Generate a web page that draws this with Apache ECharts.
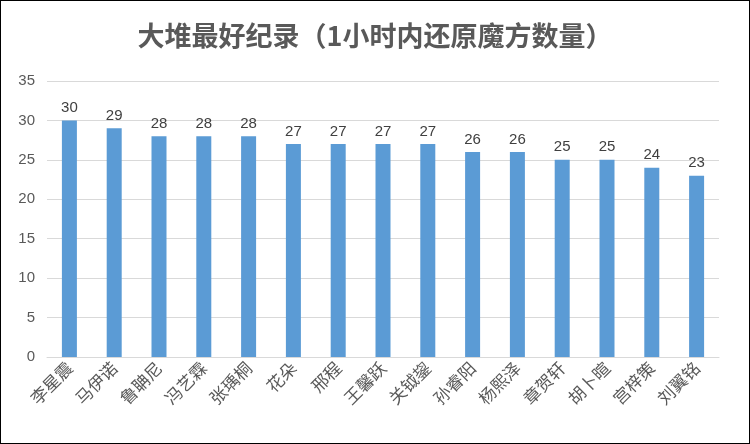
<!DOCTYPE html>
<html>
<head>
<meta charset="utf-8">
<script src="https://cdn.jsdelivr.net/npm/echarts@6/dist/echarts.min.js"></script>
<style>
  html, body { margin: 0; padding: 0; background: #fff; }
  #chart { width: 748px; height: 442px; border: 1px solid #000; }
</style>
</head>
<body>
<div id="chart"></div>
<script>
// 数据
const names = ["李星震", "马伊诺", "鲁聃尼", "冯艺霖", "张瑀桐", "花朵", "邢程", "王馨跃", "关钺鋆", "孙睿阳", "杨熙泽", "章贺轩", "胡卜暄", "宫梓策", "刘翼铭"];
const counts = [30, 29, 28, 28, 28, 27, 27, 27, 27, 26, 26, 25, 25, 24, 23];

let myChart = echarts.init(document.getElementById("chart"));
myChart.setOption({
  title: {
    text: "大堆最好纪录（1小时内还原魔方数量）",
    left: "center",
    top: 16,
    textStyle: { fontSize: 27, fontWeight: "bold", color: "#595959", fontFamily: "Noto Sans CJK SC" },
  },
  grid: { left: 46, right: 30, top: 80, bottom: 86 },
  xAxis: {
    type: "category",
    data: names,
    axisLine: { lineStyle: { color: "#d9d9d9" } },
    axisTick: { show: false },
    axisLabel: { rotate: 45, color: "#595959", fontSize: 17, fontFamily: "Noto Sans CJK SC", margin: 8 },
  },
  yAxis: {
    type: "value",
    min: 0,
    max: 35,
    interval: 5,
    axisLine: { show: false },
    axisTick: { show: false },
    axisLabel: { color: "#595959", fontSize: 15, margin: 12 },
    splitLine: { lineStyle: { color: "#d9d9d9" } },
  },
  series: [
    {
      type: "bar",
      data: counts,
      barWidth: 15,
      itemStyle: { color: "#5b9bd5" },
      label: { show: true, position: "top", color: "#404040", fontSize: 15 },
    },
  ],
});
</script>
</body>
</html>
